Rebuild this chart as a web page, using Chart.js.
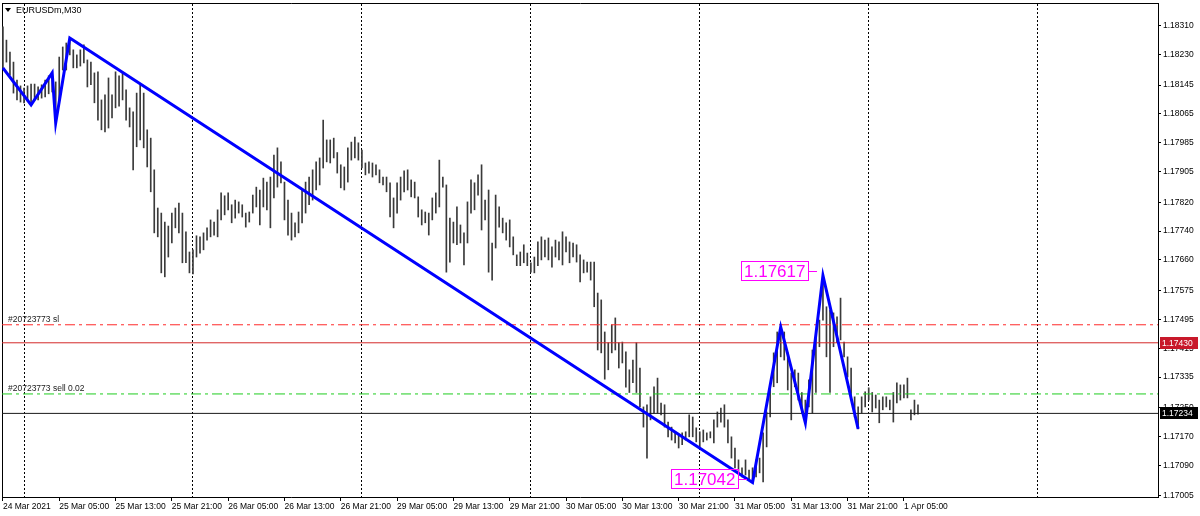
<!DOCTYPE html>
<html>
<head>
<meta charset="utf-8">
<title>EURUSDm,M30</title>
<script src="https://cdn.jsdelivr.net/npm/chart.js@4.4.1/dist/chart.umd.min.js"></script>
<style>
  html, body { margin: 0; padding: 0; background: #fff; }
  #wrap { width: 1200px; height: 516px; }
</style>
</head>
<body>
<div id="wrap"><canvas id="chart" width="1200" height="516"></canvas></div>
<script>
// chart title (symbol, timeframe)
const symbolTitle = "EURUSDm,M30";

// bar index of each time label on the bottom axis
const xTickIdx = [0, 16, 32, 48, 64, 80, 96, 112, 128, 144, 160, 176, 192, 208, 224, 240, 256];
const xTickLabels = [
	"24 Mar 2021", "25 Mar 05:00", "25 Mar 13:00", "25 Mar 21:00", "26 Mar 05:00",
	"26 Mar 13:00", "26 Mar 21:00", "29 Mar 05:00", "29 Mar 13:00", "29 Mar 21:00",
	"30 Mar 05:00", "30 Mar 13:00", "30 Mar 21:00", "31 Mar 05:00", "31 Mar 13:00",
	"31 Mar 21:00", "1 Apr 05:00",
];
// day separators (midnight bars)
const dayLineIdx = [6, 54, 102, 150, 198, 246, 294];

// price scale labels
const yTicks = [
	1.1831, 1.1823, 1.18145, 1.18065, 1.17985, 1.17905, 1.1782, 1.1774, 1.1766,
	1.17575, 1.17495, 1.17415, 1.17335, 1.1725, 1.1717, 1.1709, 1.17005,
];

// M30 bars, high / low
const highs = [
	1.18307, 1.18270, 1.18237, 1.18209, 1.18159, 1.18143, 1.18137, 1.18143, 1.18148, 1.18148,
	1.18140, 1.18146, 1.18159, 1.18171, 1.18179, 1.18154, 1.18223, 1.18251, 1.18262, 1.18276,
	1.18243, 1.18229, 1.18243, 1.18257, 1.18215, 1.18209, 1.18179, 1.18182, 1.18104, 1.18118,
	1.18165, 1.18118, 1.18182, 1.18171, 1.18179, 1.18132, 1.18082, 1.18071, 1.18123, 1.18146,
	1.18123, 1.18021, 1.17998, 1.17910, 1.17804, 1.17790, 1.17765, 1.17754, 1.17790, 1.17804,
	1.17818, 1.17790, 1.17738, 1.17682, 1.17688, 1.17727, 1.17724, 1.17735, 1.17749, 1.17771,
	1.17765, 1.17799, 1.17846, 1.17838, 1.17846, 1.17813, 1.17826, 1.17821, 1.17813, 1.17790,
	1.17793, 1.17840, 1.17862, 1.17854, 1.17887, 1.17876, 1.17890, 1.17951, 1.17971, 1.17932,
	1.17876, 1.17826, 1.17790, 1.17763, 1.17793, 1.17854, 1.17876, 1.17890, 1.17910, 1.17932,
	1.17943, 1.18048, 1.17993, 1.17993, 1.17998, 1.17958, 1.17924, 1.17918, 1.17971, 1.17987,
	1.18001, 1.17985, 1.17965, 1.17929, 1.17932, 1.17929, 1.17924, 1.17910, 1.17890, 1.17890,
	1.17874, 1.17832, 1.17874, 1.17890, 1.17907, 1.17910, 1.17882, 1.17876, 1.17835, 1.17799,
	1.17793, 1.17790, 1.17832, 1.17846, 1.17937, 1.17890, 1.17868, 1.17776, 1.17765, 1.17807,
	1.17757, 1.17735, 1.17821, 1.17882, 1.17874, 1.17896, 1.17924, 1.17826, 1.17854, 1.17707,
	1.17840, 1.17807, 1.17776, 1.17763, 1.17771, 1.17724, 1.17674, 1.17682, 1.17702, 1.17679,
	1.17652, 1.17668, 1.17710, 1.17724, 1.17715, 1.17721, 1.17696, 1.17715, 1.17710, 1.17738,
	1.17724, 1.17710, 1.17707, 1.17702, 1.17674, 1.17660, 1.17654, 1.17654, 1.17654, 1.17568,
	1.17549, 1.17460, 1.17430, 1.17480, 1.17499, 1.17430, 1.17432, 1.17405, 1.17355, 1.17382,
	1.17430, 1.17360, 1.17252, 1.17258, 1.17280, 1.17308, 1.17332, 1.17263, 1.17258, 1.17210,
	1.17196, 1.17183, 1.17174, 1.17180, 1.17183, 1.17230, 1.17224, 1.17194, 1.17183, 1.17188,
	1.17180, 1.17183, 1.17216, 1.17238, 1.17249, 1.17258, 1.17216, 1.17169, 1.17138, 1.17105,
	1.17083, 1.17105, 1.17077, 1.17083, 1.17105, 1.17110, 1.17180, 1.17238, 1.17313, 1.17402,
	1.17460, 1.17474, 1.17460, 1.17402, 1.17346, 1.17355, 1.17346, 1.17292, 1.17271, 1.17327,
	1.17410, 1.17443, 1.17493, 1.17617, 1.17530, 1.17521, 1.17513, 1.17502, 1.17554, 1.17432,
	1.17391, 1.17360, 1.17280, 1.17252, 1.17280, 1.17294, 1.17305, 1.17292, 1.17285, 1.17271,
	1.17280, 1.17280, 1.17271, 1.17292, 1.17319, 1.17313, 1.17313, 1.17332, 1.17244, 1.17271,
	1.17258,
];
const lows = [
	1.18193, 1.18209, 1.18173, 1.18123, 1.18104, 1.18098, 1.18096, 1.18101, 1.18090, 1.18104,
	1.18104, 1.18109, 1.18112, 1.18121, 1.18126, 1.18040, 1.18104, 1.18187, 1.18187, 1.18229,
	1.18193, 1.18193, 1.18198, 1.18207, 1.18140, 1.18146, 1.18096, 1.18048, 1.18021, 1.18015,
	1.18026, 1.18054, 1.18082, 1.18087, 1.18104, 1.18048, 1.18029, 1.17910, 1.17974, 1.17993,
	1.17971, 1.17918, 1.17849, 1.17735, 1.17724, 1.17624, 1.17613, 1.17668, 1.17707, 1.17749,
	1.17735, 1.17652, 1.17652, 1.17624, 1.17621, 1.17668, 1.17679, 1.17688, 1.17715, 1.17724,
	1.17729, 1.17724, 1.17771, 1.17785, 1.17799, 1.17763, 1.17776, 1.17790, 1.17779, 1.17751,
	1.17765, 1.17790, 1.17807, 1.17757, 1.17807, 1.17799, 1.17749, 1.17832, 1.17862, 1.17874,
	1.17771, 1.17729, 1.17715, 1.17724, 1.17735, 1.17763, 1.17790, 1.17813, 1.17826, 1.17854,
	1.17868, 1.17915, 1.17932, 1.17929, 1.17943, 1.17901, 1.17860, 1.17854, 1.17876, 1.17937,
	1.17943, 1.17937, 1.17915, 1.17896, 1.17901, 1.17890, 1.17896, 1.17874, 1.17868, 1.17849,
	1.17779, 1.17749, 1.17790, 1.17826, 1.17849, 1.17854, 1.17835, 1.17832, 1.17779, 1.17757,
	1.17763, 1.17729, 1.17771, 1.17790, 1.17807, 1.17862, 1.17626, 1.17654, 1.17707, 1.17702,
	1.17707, 1.17646, 1.17707, 1.17790, 1.17799, 1.17840, 1.17743, 1.17771, 1.17626, 1.17604,
	1.17693, 1.17751, 1.17735, 1.17715, 1.17696, 1.17674, 1.17644, 1.17644, 1.17652, 1.17644,
	1.17626, 1.17624, 1.17644, 1.17660, 1.17668, 1.17660, 1.17640, 1.17668, 1.17660, 1.17646,
	1.17682, 1.17652, 1.17668, 1.17654, 1.17599, 1.17624, 1.17626, 1.17604, 1.17530, 1.17410,
	1.17402, 1.17329, 1.17355, 1.17402, 1.17410, 1.17360, 1.17374, 1.17307, 1.17292, 1.17319,
	1.17292, 1.17252, 1.17196, 1.17110, 1.17216, 1.17235, 1.17235, 1.17230, 1.17196, 1.17169,
	1.17160, 1.17152, 1.17138, 1.17147, 1.17160, 1.17169, 1.17169, 1.17155, 1.17141, 1.17155,
	1.17160, 1.17166, 1.17152, 1.17196, 1.17210, 1.17196, 1.17152, 1.17110, 1.17083, 1.17069,
	1.17058, 1.17063, 1.17049, 1.17042, 1.17058, 1.17069, 1.17044, 1.17141, 1.17224, 1.17308,
	1.17319, 1.17391, 1.17382, 1.17299, 1.17216, 1.17308, 1.17271, 1.17235, 1.17208, 1.17252,
	1.17235, 1.17292, 1.17419, 1.17493, 1.17391, 1.17292, 1.17419, 1.17430, 1.17438, 1.17391,
	1.17335, 1.17280, 1.17224, 1.17191, 1.17235, 1.17252, 1.17271, 1.17238, 1.17249, 1.17208,
	1.17244, 1.17252, 1.17244, 1.17210, 1.17263, 1.17271, 1.17277, 1.17277, 1.17216, 1.17230,
	1.17232,
];

// ZigZag swing points (bar index, price)
const zzIdx = [0, 8, 14, 15, 19, 213, 221, 228, 233, 243];
const zzPrice = [1.18193, 1.1809, 1.18179, 1.1804, 1.18276, 1.17042, 1.17474, 1.17208, 1.17617, 1.17191];

// swing labels written on the chart
const swingTagIdx = [233, 213];
const swingTagPrice = [1.17617, 1.17042];

// order levels
const slPrice = 1.1748;
const openPrice = 1.1743;
const sellPrice = 1.17288;
const bidPrice = 1.17234;
const slText = "#20723773 sl";
const sellText = "#20723773 sell 0.02";

const X_MIN = -0.26;
const X_MAX = 328.2;
const Y_MIN = 1.17002;
const Y_MAX = 1.18373;
const FONT = "'Liberation Sans', Arial, sans-serif";

Chart.defaults.font.family = FONT;
Chart.defaults.font.size = 8.5;
Chart.defaults.color = "#000";

const levelLine = (price, color, dash) => ({
	type: "line",
	data: [
		{ x: X_MIN, y: price },
		{ x: X_MAX, y: price },
	],
	borderColor: color,
	borderWidth: 1,
	borderDash: dash,
	pointRadius: 0,
	xAxisID: "x",
	yAxisID: "y",
	order: 1,
});

// Texts, price tags and swing labels on top of the plot
const overlay = {
	id: "overlay",
	afterDatasetsDraw(chart) {
		const { ctx, scales } = chart;
		const x = scales.x;
		const y = scales.y;
		ctx.save();

		// symbol header
		ctx.fillStyle = "#000";
		ctx.beginPath();
		ctx.moveTo(5, 8);
		ctx.lineTo(11, 8);
		ctx.lineTo(8, 12);
		ctx.closePath();
		ctx.fill();
		ctx.font = `9px ${FONT}`;
		ctx.textBaseline = "alphabetic";
		ctx.textAlign = "left";
		ctx.fillText(symbolTitle, 16, 13);

		// order line descriptions
		ctx.font = `8.5px ${FONT}`;
		ctx.fillStyle = "#222";
		ctx.fillText(slText, 8, Math.round(y.getPixelForValue(slPrice)) - 3);
		ctx.fillText(sellText, 8, Math.round(y.getPixelForValue(sellPrice)) - 3);

		// price tags on the scale
		const tag = (price, bg) => {
			const py = Math.round(y.getPixelForValue(price));
			ctx.fillStyle = bg;
			ctx.fillRect(1160, py - 6, 38, 12);
			ctx.fillStyle = "#fff";
			ctx.textBaseline = "middle";
			ctx.fillText(price.toFixed(5), 1162, py + 0.5);
		};
		tag(openPrice, "#c8182a");
		tag(bidPrice, "#000");

		// swing labels
		ctx.font = `17px ${FONT}`;
		ctx.strokeStyle = "#ff00ff";
		ctx.fillStyle = "#ff00ff";
		ctx.lineWidth = 1;
		ctx.textBaseline = "middle";
		swingTagIdx.forEach((idx, k) => {
			const px = x.getPixelForValue(idx);
			const py = y.getPixelForValue(swingTagPrice[k]);
			const txt = swingTagPrice[k].toFixed(5);
			const w = Math.round(ctx.measureText(txt).width) + 6;
			const right = Math.round(px - 15);
			const cy = Math.round(py - 4);
			ctx.strokeRect(right - w + 0.5, cy - 10 + 0.5, w, 19);
			ctx.fillText(txt, right - w + 3, cy + 1);
			ctx.beginPath();
			ctx.moveTo(right, cy + 0.5);
			ctx.lineTo(Math.round(px - 6), cy + 0.5);
			ctx.stroke();
		});
		ctx.restore();
	},
};

const noPad = (scale) => {
	scale.paddingTop = 0;
	scale.paddingBottom = 0;
	scale.paddingLeft = 0;
	scale.paddingRight = 0;
};

new Chart(document.getElementById("chart").getContext("2d"), {
	type: "bar",
	data: {
		datasets: [
			{
				type: "line",
				data: zzIdx.map((v, k) => ({ x: v, y: zzPrice[k] })),
				borderColor: "#0000ff",
				borderWidth: 3,
				pointRadius: 0,
				tension: 0,
				xAxisID: "x",
				yAxisID: "y",
				order: 0,
			},
			levelLine(slPrice, "#ff2a2a", [10, 4, 3, 4]),
			levelLine(openPrice, "#d42a2a", []),
			levelLine(sellPrice, "#1fcc1f", [10, 4, 3, 4]),
			levelLine(bidPrice, "#1a1a1a", []),
			{
				type: "bar",
				data: highs.map((h, i) => ({ x: i, y: [lows[i], h] })),
				backgroundColor: "#3a3a3a",
				borderWidth: 0,
				barThickness: 1,
				xAxisID: "x",
				yAxisID: "y",
				order: 3,
			},
		],
	},
	options: {
		responsive: false,
		animation: false,
		events: [],
		layout: { padding: { left: 2, top: 3, right: 0, bottom: 0 } },
		plugins: {
			legend: { display: false },
			tooltip: { enabled: false },
		},
		scales: {
			x: {
				type: "linear",
				position: "bottom",
				min: X_MIN,
				max: X_MAX,
				offset: false,
				afterBuildTicks: (s) => {
					s.ticks = xTickIdx.map((v) => ({ value: v }));
				},
				afterFit: (s) => {
					s.height = 19;
					noPad(s);
				},
				ticks: {
					autoSkip: false,
					maxRotation: 0,
					align: "start",
					padding: 1,
					callback: (v, i) => xTickLabels[i],
				},
				grid: {
					offset: false,
					drawOnChartArea: false,
					drawTicks: true,
					tickLength: 4,
					tickColor: "#000",
				},
				border: { display: true, color: "#000" },
			},
			x2: {
				type: "linear",
				position: "top",
				min: X_MIN,
				max: X_MAX,
				offset: false,
				afterBuildTicks: (s) => {
					s.ticks = dayLineIdx.map((v) => ({ value: v }));
				},
				afterFit: (s) => {
					s.height = 0;
					noPad(s);
				},
				ticks: { display: false },
				grid: { offset: false, drawTicks: false, color: "#000", lineWidth: 1 },
				border: { display: true, color: "#000", dash: [2, 2] },
			},
			y: {
				type: "linear",
				position: "right",
				min: Y_MIN,
				max: Y_MAX,
				afterBuildTicks: (s) => {
					s.ticks = yTicks.map((v) => ({ value: v }));
				},
				afterFit: (s) => {
					s.width = 42;
					noPad(s);
				},
				ticks: {
					autoSkip: false,
					padding: 2,
					callback: (v) => Number(v).toFixed(5),
				},
				grid: {
					drawOnChartArea: false,
					drawTicks: true,
					tickLength: 3,
					tickColor: "#000",
				},
				border: { display: true, color: "#000" },
			},
			yl: {
				type: "linear",
				position: "left",
				min: 0,
				max: 1,
				afterFit: (s) => {
					s.width = 0;
					noPad(s);
				},
				ticks: { display: false },
				grid: { display: false },
				border: { display: true, color: "#000" },
			},
		},
	},
	plugins: [overlay],
});
</script>
</body>
</html>
